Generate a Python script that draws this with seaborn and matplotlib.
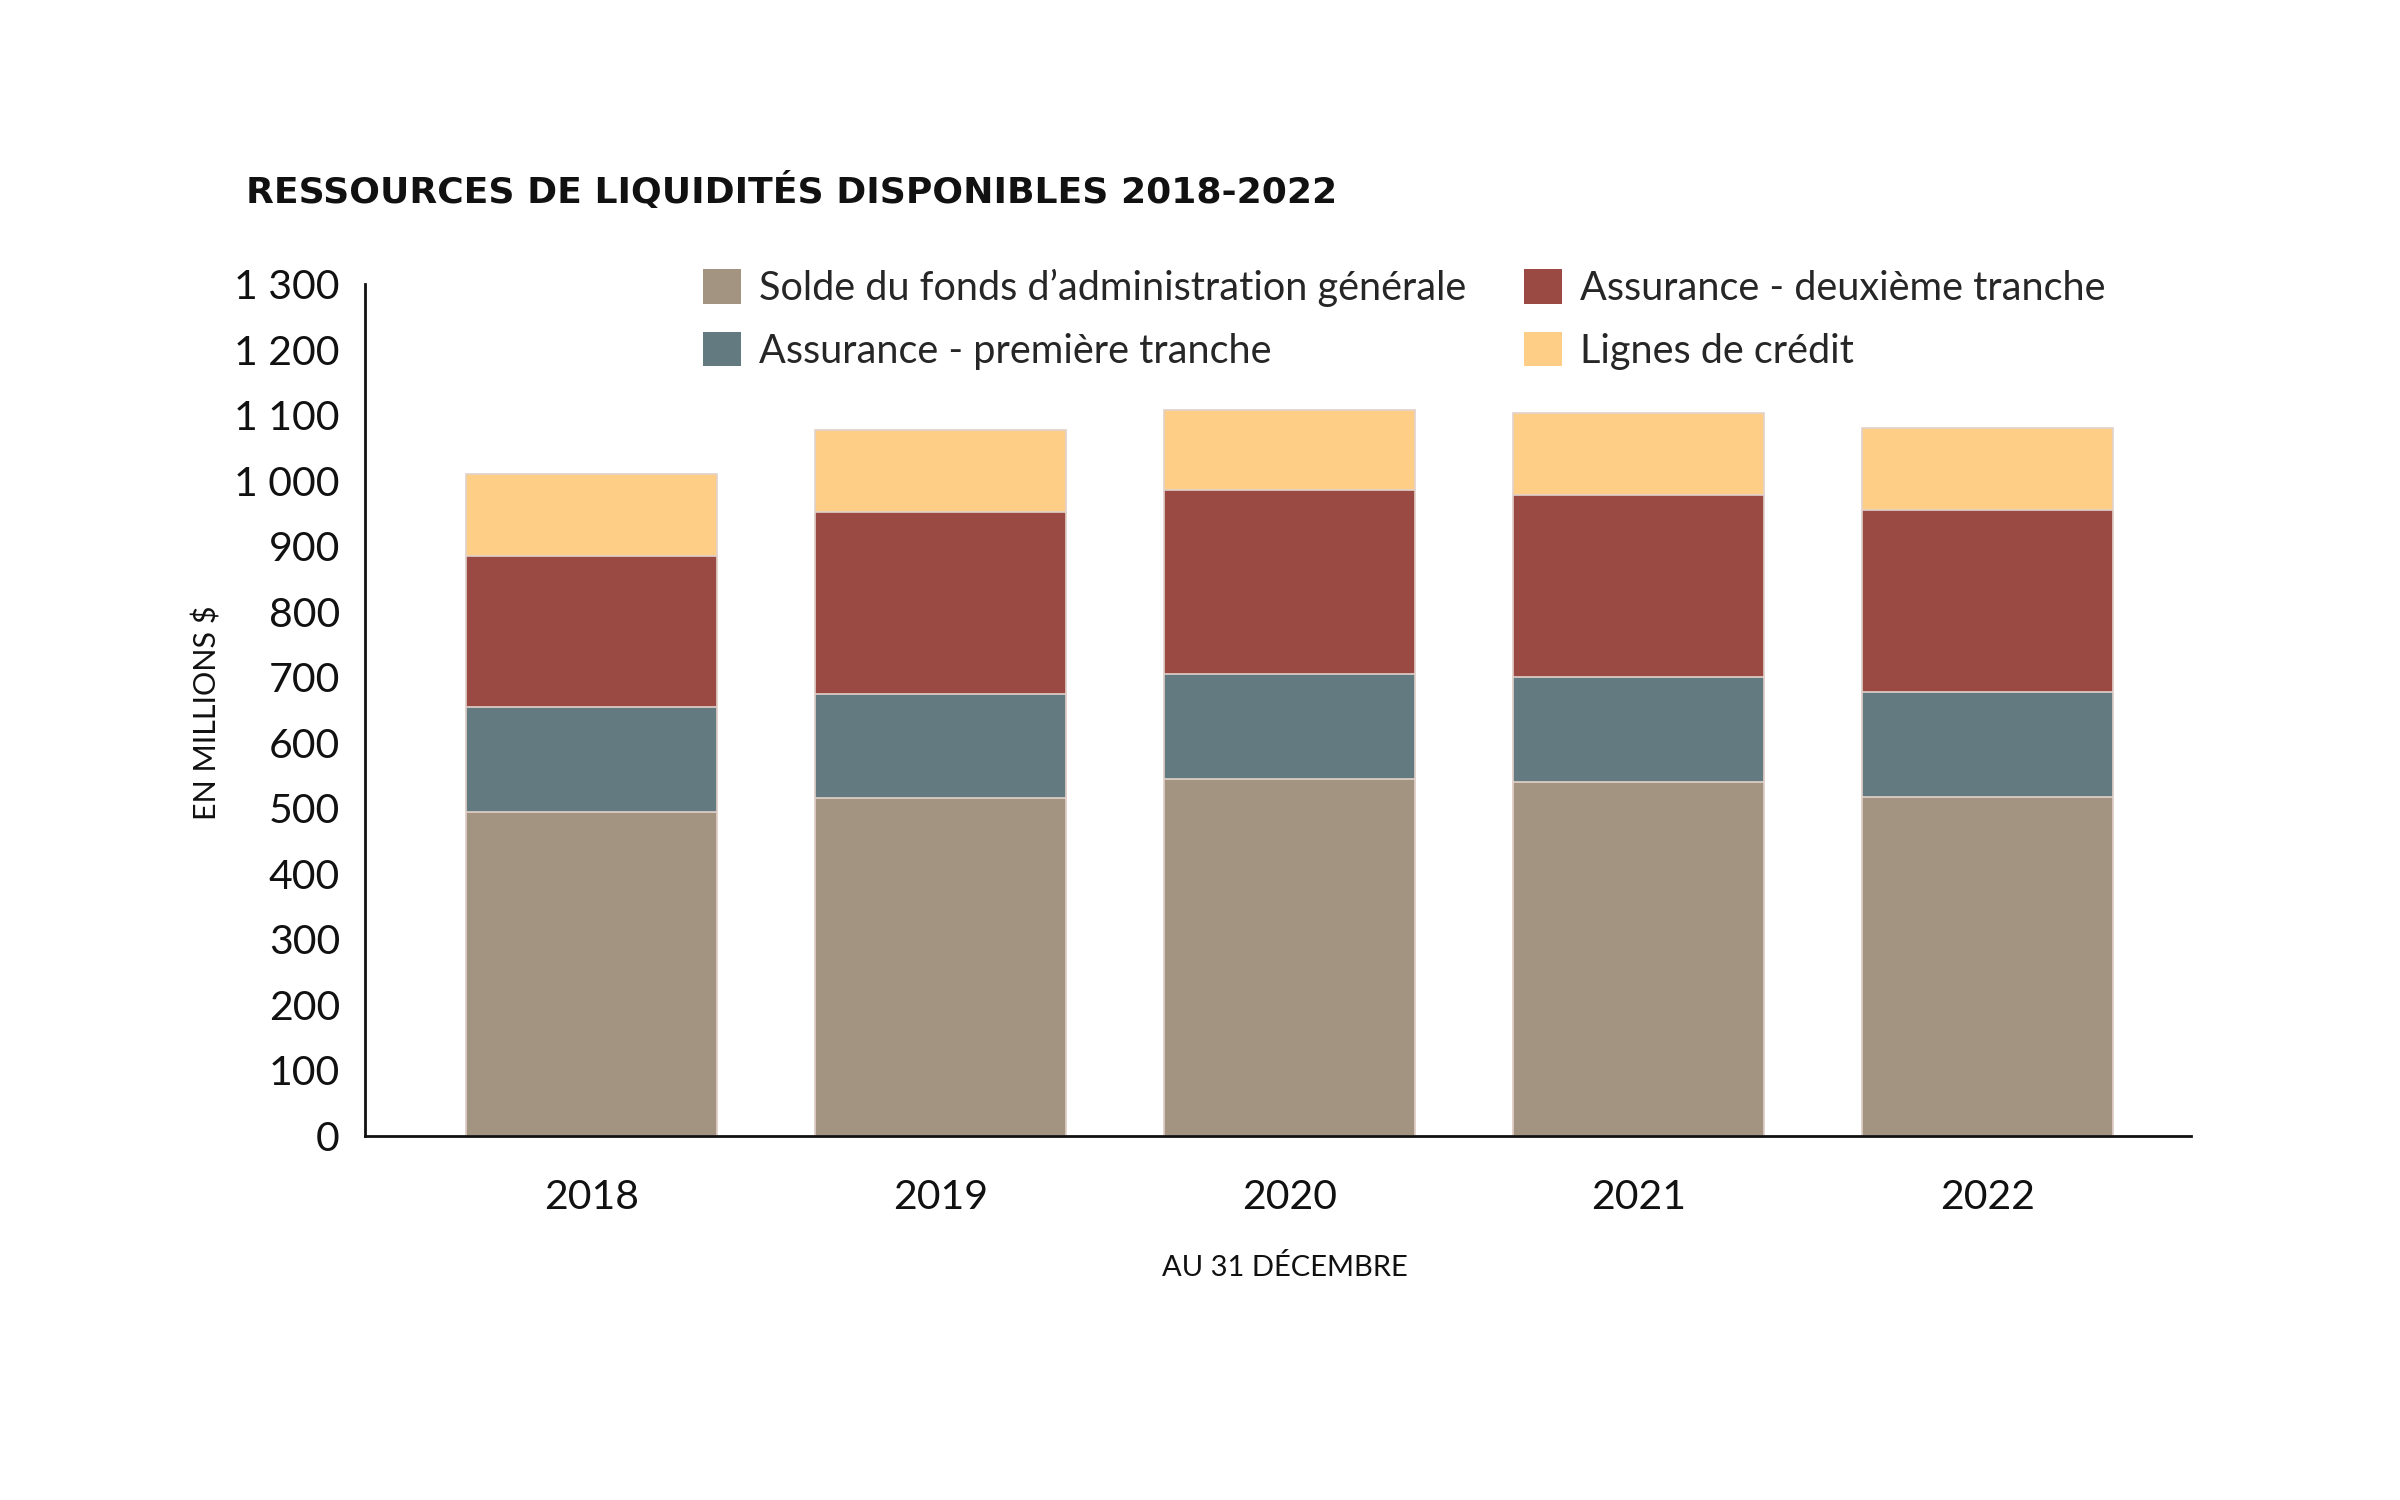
import pandas as pd
import seaborn as sns
import matplotlib.pyplot as plt
from matplotlib.patches import Patch

# Chart data (millions $, at Dec 31)
years = ['2018', '2019', '2020', '2021', '2022']
solde = [495, 515, 545, 540, 517]
premiere = [160, 160, 160, 160, 160]
deuxieme = [230, 277, 280, 278, 278]
credit = [125, 125, 123, 125, 125]

series_names = ['Solde du fonds d’administration générale',
                'Assurance - première tranche',
                'Assurance - deuxième tranche',
                'Lignes de crédit']
colors = ['#A39482', '#627A80', '#9A4A43', '#FECE87']

y_ticks = [0, 100, 200, 300, 400, 500, 600, 700, 800, 900, 1000, 1100, 1200, 1300]
y_tick_labels = ['0', '100', '200', '300', '400', '500', '600', '700', '800', '900',
                 '1 000', '1 100', '1 200', '1 300']

title = 'RESSOURCES DE LIQUIDITÉS DISPONIBLES 2018-2022'

# cumulative totals for stacking (draw tallest first)
df = pd.DataFrame({'year': years, 's1': solde, 's2': premiere, 's3': deuxieme, 's4': credit})
df['c1'] = df['s1']
df['c2'] = df['c1'] + df['s2']
df['c3'] = df['c2'] + df['s3']
df['c4'] = df['c3'] + df['s4']

sns.set_style('white')
plt.rcParams['font.family'] = ['Lato', 'DejaVu Sans']

fig = plt.figure(figsize=(24, 15), dpi=100)
ax = fig.add_axes([365 / 2400, 1 - 1136 / 1500, (2191 - 365) / 2400, (1136 - 284) / 1500])

for col, color in zip(['c4', 'c3', 'c2', 'c1'], colors[::-1]):
    sns.barplot(data=df, x='year', y=col, color=color, saturation=1, width=0.72,
                edgecolor='#e2d2cc', linewidth=1.2, ax=ax)

ax.set_xlim(-0.649, 4.583)
ax.set_ylim(0, 1300)
ax.set_yticks(y_ticks)
ax.set_yticklabels(y_tick_labels)
ax.set_xlabel('')
ax.set_ylabel('')
ax.tick_params(axis='y', length=0, pad=18, labelsize=29.5, labelcolor='#111111')
ax.tick_params(axis='x', length=0, pad=31, labelsize=29.5, labelcolor='#111111')

sns.despine(ax=ax, top=True, right=True)
for s in ['left', 'bottom']:
    ax.spines[s].set_color('#111111')
    ax.spines[s].set_linewidth(2)

# titles and axis captions
fig.text(246 / 2400, 1 - 191 / 1500, title, fontsize=26, fontweight='bold',
         family='DejaVu Sans', ha='left', va='center', color='#111111')
fig.text(207 / 2400, 1 - 713 / 1500, 'EN MILLIONS $', rotation=90, fontsize=22,
         ha='center', va='center', color='#111111')
fig.text(1285 / 2400, 1 - 1268 / 1500, 'AU 31 DÉCEMBRE', fontsize=21,
         ha='center', va='center', color='#111111')

handles = [Patch(facecolor=c, edgecolor='none') for c in colors]
fig.legend(handles, series_names, loc='upper left', bbox_to_anchor=(703 / 2400, 1 - 269 / 1500),
           ncol=2, frameon=False, fontsize=28.5, borderpad=0, borderaxespad=0,
           handlelength=0.96, handleheight=0.96, handletextpad=0.45,
           columnspacing=1.47, labelspacing=0.62)

fig.savefig('out.png', dpi=100, facecolor='white')
